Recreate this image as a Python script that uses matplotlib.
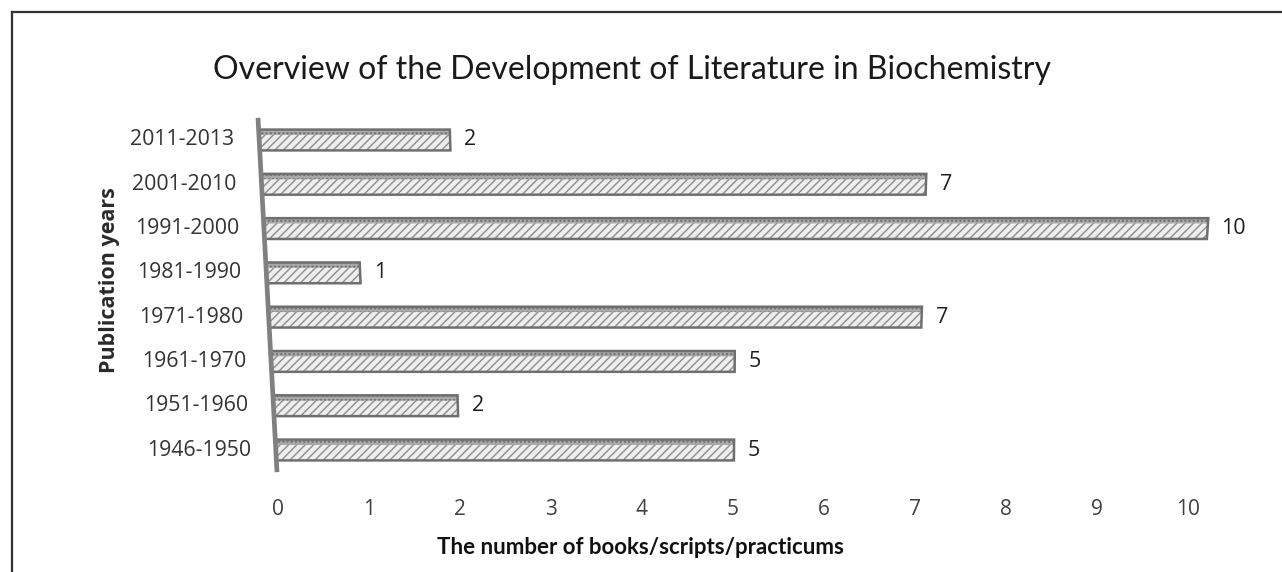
import numpy as np
import matplotlib
matplotlib.use("Agg")
import matplotlib.pyplot as plt
from matplotlib.transforms import Transform
from matplotlib.lines import Line2D
from matplotlib.patches import Rectangle

# ---- data ----
categories = ["1946-1950", "1951-1960", "1961-1970", "1971-1980",
              "1981-1990", "1991-2000", "2001-2010", "2011-2013"]
values = [5, 2, 5, 7, 1, 10, 7, 2]
xticks = list(range(0, 11))
title = "Overview of the Development of Literature in Biochemistry"
xlabel = "The number of books/scripts/practicums"
ylabel = "Publication years"

# ---- perspective (3D-look) mapping in data space ----
C0, C1 = -0.011, -0.0261   # left-edge offset along depth
S0, S1 = 1.007, 0.0060     # scale along depth


class Persp(Transform):
    input_dims = 2
    output_dims = 2
    is_separable = False
    has_inverse = False

    def transform_non_affine(self, values_):
        xy = np.asarray(values_, dtype=float).reshape(-1, 2)
        x, y = xy[:, 0], xy[:, 1]
        c = C0 + C1 * (y + 0.5)
        s = S0 + S1 * y
        return np.column_stack([c + s * x, y])


W, H = 1282, 572
fig = plt.figure(figsize=(W / 100, H / 100), dpi=100)
ax = fig.add_axes([278 / W, (H - 472.15) / H, 910 / W, 354.3 / H])
ax.set_xlim(0, 10)
ax.set_ylim(-0.5, 7.5)
for sp in ax.spines.values():
    sp.set_visible(False)

ptr = Persp() + ax.transData
ypos = np.arange(len(categories))
bh = 0.47
top_h = 0.12

plt.rcParams['hatch.linewidth'] = 1.0
for yi, v in zip(ypos, values):
    # hatched body
    ax.add_patch(Rectangle((0, yi - bh / 2), v, bh, facecolor="#eeeeee",
                           edgecolor="#8c8c8c", linewidth=0, hatch="////",
                           transform=ptr, zorder=2, clip_on=False))
    # top face strip
    ax.add_patch(Rectangle((0, yi + bh / 2 - top_h), v, top_h,
                           facecolor="#a9a9a9", edgecolor="#6e6e6e",
                           linewidth=0, hatch="....", transform=ptr,
                           zorder=3, clip_on=False))
    # outline
    ax.add_patch(Rectangle((0, yi - bh / 2), v, bh, fill=False,
                           edgecolor="#6f6f6f", linewidth=1.8,
                           transform=ptr, zorder=4, clip_on=False))

# tilted axis line
ax.plot([0, 0], [-0.5, 7.5], color="#808080", lw=3.4, transform=ptr,
        zorder=5, solid_capstyle="butt", clip_on=False)

# value labels
for yi, v in zip(ypos, values):
    ax.annotate(str(v), xy=(v, yi), xycoords=ptr, xytext=(10, 0),
                textcoords="offset points", ha="left", va="center",
                fontsize=15.5, family="Open Sans", color="#1f1f1f")

# category labels
for yi, cat in zip(ypos, categories):
    ax.annotate(cat, xy=(0, yi), xycoords=ptr, xytext=(-18, 0),
                textcoords="offset points", ha="right", va="center",
                fontsize=15.3, family="Open Sans", color="#333333")

ax.set_yticks([])
ax.set_xticks(xticks)
ax.set_xticklabels([str(t) for t in xticks], fontsize=15, family="Open Sans",
                   color="#404040")
ax.tick_params(axis="x", length=0, pad=19)

fig.text(632 / W, 1 - 70 / H, title, ha="center", va="center",
         fontsize=23, family="Lato", color="#1a1a1a")
fig.text(640 / W, 1 - 548 / H, xlabel, ha="center", va="center",
         fontsize=16, family="Lato", weight="bold", color="#111111")
fig.text(110 / W, 1 - 280 / H, ylabel, ha="center", va="center",
         rotation=90, fontsize=15.5, family="Open Sans", weight="bold",
         color="#2a2a2a")

# frame lines (top and left)
fig.add_artist(Line2D([12 / W, 1], [1 - 12 / H, 1 - 12 / H],
                      transform=fig.transFigure, color="#333333", lw=1.6))
fig.add_artist(Line2D([12 / W, 12 / W], [0, 1 - 12 / H],
                      transform=fig.transFigure, color="#333333", lw=1.6))

fig.savefig("out.png", dpi=100, facecolor="white")
